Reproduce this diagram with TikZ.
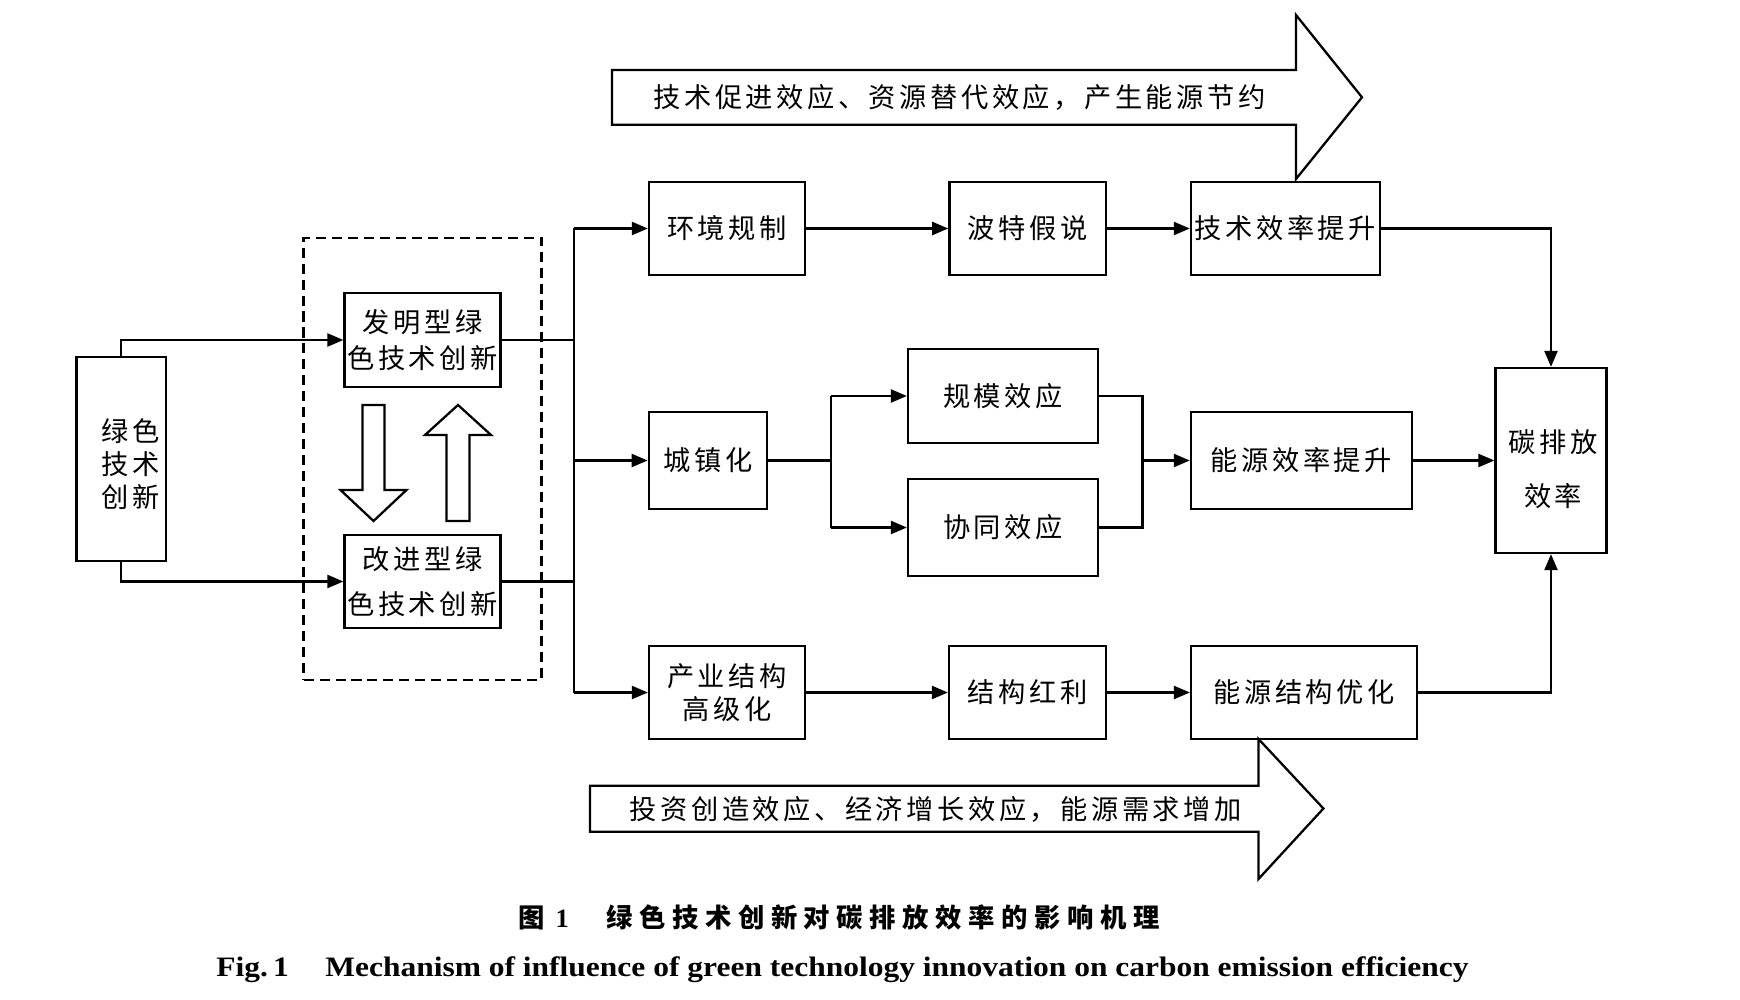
\documentclass[tikz,border=0pt]{standalone}
\usepackage{fontspec}
\usepackage{graphicx}
\setmainfont{Liberation Serif}
\newfontfamily\cjk[LetterSpace=13]{Noto Sans CJK SC}
\newfontfamily\cjkcap[LetterSpace=25]{Noto Sans CJK SC}
\usetikzlibrary{arrows.meta}

\begin{document}
\begin{tikzpicture}[x=0.02cm, y=-0.02cm,
		box/.style={rectangle, draw=black, line width=1.3pt, inner sep=0pt, align=center, font=\cjk\fontsize{15.5}{19}\selectfont},
		link/.style={-{Triangle[length=0.32cm, width=0.26cm]}, line width=1.3pt},
		wire/.style={line width=1.3pt},
		hollow/.style={draw=black, line width=1.3pt, line join=miter}]
		\useasboundingbox (0,0) rectangle (1740,1000);
		\node[box, minimum width=1.79cm, minimum height=4.08cm](green) at (121.3,459){};
		\node[align=center, font=\cjk\fontsize{15.5}{18.6}\selectfont](greentext) at (131,464){绿色\\技术\\创新};
		\node[rectangle, draw=black, line width=1.3pt, dash pattern=on 5.7pt off 3.4pt, minimum width=4.76cm, minimum height=8.84cm](group) at (422.5,459){};
		\node[box, minimum width=3.12cm, minimum height=1.88cm, font=\cjk\fontsize{15.5}{20.5}\selectfont](inv) at (422.5,340){发明型绿\\色技术创新};
		\node[box, minimum width=3.12cm, minimum height=1.87cm, font=\cjk\fontsize{15.5}{25.6}\selectfont](imp) at (422.5,581.5){改进型绿\\色技术创新};
		\node[box, minimum width=3.12cm, minimum height=1.86cm](env) at (727,228.5){环境规制};
		\node[box, minimum width=3.13cm, minimum height=1.86cm](porter) at (1027.6,228.5){波特假说};
		\node[box, minimum width=3.78cm, minimum height=1.86cm](techeff) at (1285.4,228.5){技术效率提升};
		\node[box, minimum width=2.37cm, minimum height=1.94cm](urban) at (708,460.5){城镇化};
		\node[box, minimum width=3.8cm, minimum height=1.88cm](scale) at (1003,396){规模效应};
		\node[box, minimum width=3.8cm, minimum height=1.94cm](synergy) at (1003,527.5){协同效应};
		\node[box, minimum width=4.42cm, minimum height=1.94cm](enereff) at (1301.4,460.5){能源效率提升};
		\node[box, minimum width=2.22cm, minimum height=3.7cm](carbon) at (1551,460.5){};
		\node[align=center, font=\cjk\fontsize{15.5}{31}\selectfont](carbontext) at (1553,469){碳排放\\效率};
		\node[box, minimum width=3.12cm, minimum height=1.86cm, font=\cjk\fontsize{15.5}{19}\selectfont](indus) at (727,692.5){产业结构\\高级化};
		\node[box, minimum width=3.14cm, minimum height=1.86cm](struct) at (1027.5,692.5){结构红利};
		\node[box, minimum width=4.52cm, minimum height=1.86cm](enerstr) at (1304,692.5){能源结构优化};
		\draw [hollow] (612,70) -- (1296,70) -- (1296,15) -- (1362,97.3) -- (1296,179) -- (1296,124.7) -- (612,124.7) -- cycle;
		\node[font=\cjk\fontsize{15.5}{19}\selectfont](topeff) at (959.5,97){技术促进效应、资源替代效应，产生能源节约};
		\draw [hollow] (590,785.7) -- (1258.5,785.7) -- (1258.5,739) -- (1323.4,808.5) -- (1258.5,879) -- (1258.5,831.7) -- (590,831.7) -- cycle;
		\node[font=\cjk\fontsize{15.5}{19}\selectfont](boteff) at (935.7,809){投资创造效应、经济增长效应，能源需求增加};
		\draw [hollow] (362.5,405) -- (384.5,405) -- (384.5,490) -- (406.5,490) -- (373.5,521) -- (340.5,490) -- (362.5,490) -- cycle;
		\draw [hollow] (458,405) -- (491,435) -- (469.5,435) -- (469.5,521) -- (446.5,521) -- (446.5,435) -- (425,435) -- cycle;
		\coordinate (bus) at (574,228.5);
		\coordinate (split) at (830.7,460.5);
		\coordinate (merge) at (1142.5,460.5);
		\draw [link] (green.north) |- (inv.west);
		\draw [link] (green.south) |- (imp.west);
		\draw [wire] (inv.east) -- (inv.east -| bus);
		\draw [wire] (imp.east) -- (imp.east -| bus);
		\draw [wire] (bus) -- (bus |- indus.west);
		\draw [link] (bus) -- (env.west);
		\draw [link] (bus |- urban.west) -- (urban.west);
		\draw [link] (bus |- indus.west) -- (indus.west);
		\draw [link] (env.east) -- (porter.west);
		\draw [link] (porter.east) -- (techeff.west);
		\draw [link] (techeff.east) -| (carbon.north);
		\draw [wire] (urban.east) -- (split);
		\draw [wire] (split |- scale.west) -- (split |- synergy.west);
		\draw [link] (split |- scale.west) -- (scale.west);
		\draw [link] (split |- synergy.west) -- (synergy.west);
		\draw [wire] (scale.east) -- (scale.east -| merge) -- (synergy.east -| merge) -- (synergy.east);
		\draw [link] (merge) -- (enereff.west);
		\draw [link] (enereff.east) -- (carbon.west);
		\draw [link] (indus.east) -- (struct.west);
		\draw [link] (struct.east) -- (enerstr.west);
		\draw [link] (enerstr.east) -| (carbon.south);
		\node[font=\fontsize{15}{18}\selectfont\bfseries](captioncn) at (839,917){{\cjkcap 图}\hspace{0.22cm}1\hspace{0.75cm}{\cjkcap 绿色技术创新对碳排放效率的影响机理}};
		\node[font=\fontsize{16}{19}\selectfont\bfseries, anchor=base](captionen) at (842.5,976.7){\scalebox{1.12}[1]{Fig.\,1\hspace{0.65cm}Mechanism of influence of green technology innovation on carbon emission efficiency}};
	\end{tikzpicture}
\end{document}
